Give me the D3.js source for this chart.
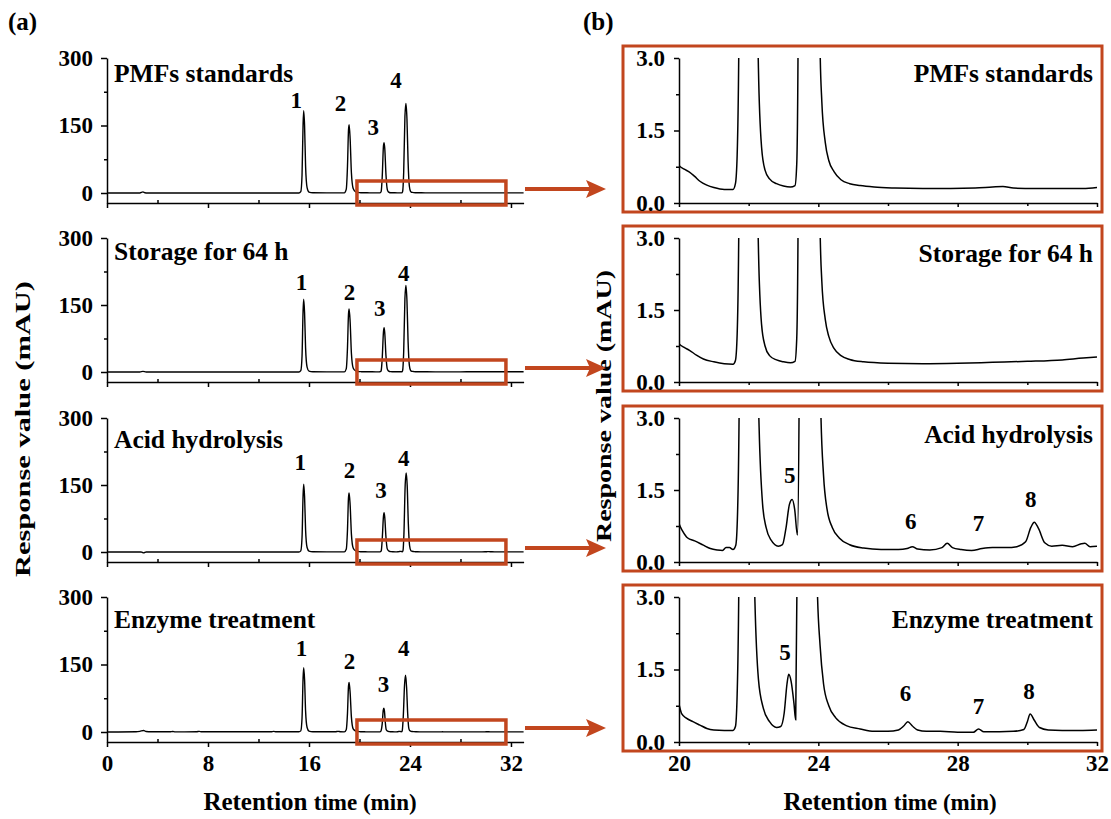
<!DOCTYPE html>
<html>
<head>
<meta charset="utf-8">
<script src="https://cdn.jsdelivr.net/npm/d3@7"></script>
<style>
  body { margin: 0; background: #fff; }
  svg text { font-family: "Liberation Serif", "Times New Roman", serif; font-weight: bold; fill: #000; }
  .tick text { font-size: 23px; }
  .domain, .tick line { stroke: #000; stroke-width: 1.5px; }
</style>
</head>
<body>
<div id="chart"></div>
<script>
const samples = ["PMFs standards", "Storage for 64 h", "Acid hydrolysis", "Enzyme treatment"];

const xTicksLeft = [0, 8, 16, 24, 32];
const xMinorLeft = [4, 12, 20, 28];
const yTicksLeft = [0, 150, 300];
const yMinorLeft = [75, 225];
const xTicksRight = [20, 24, 28, 32];
const xMinorRight = [22, 26, 30];
const yTicksRight = [0, 1.5, 3];
const yMinorRight = [0.75, 2.25];

// chromatograms: [retention time (min), response (mAU)]
const tracePMF = [[0,0],[2.6,0],[2.85,2.5],[3.0,0.5],[3.2,0],[15.2,0],[15.35,3],[15.45,40],[15.53,150],[15.58,183],[15.65,150],[15.73,60],[15.85,12],[16.0,2],[16.3,0.5],[18.8,0.3],[18.95,8],[19.05,60],[19.13,140],[19.18,152],[19.26,120],[19.36,45],[19.5,10],[19.7,2.5],[19.9,1.1],
  [20.0,0.78],[20.15,0.7],[20.3,0.64],[20.45,0.55],[20.6,0.45],[20.8,0.37],[21.0,0.32],[21.3,0.28],[21.55,0.28],[21.62,0.4],[21.67,1.0],[21.72,3.5],[21.8,35],[21.9,105],[21.95,112],[22.0,100],[22.1,40],[22.2,8],[22.28,2.8],[22.37,1.16],[22.47,0.68],[22.6,0.5],[22.8,0.4],[23.0,0.35],[23.2,0.33],[23.33,0.36],[23.38,0.8],[23.42,3.5],[23.5,45],[23.6,170],[23.68,199],[23.76,165],[23.85,70],[23.95,15],[24.05,3.2],[24.1,2.1],[24.2,1.25],[24.3,0.88],[24.45,0.65],[24.65,0.48],[24.9,0.4],[25.2,0.36],[25.6,0.33],[26.2,0.31],[27.0,0.3],[27.8,0.3],[28.5,0.31],[29.0,0.33],[29.3,0.34],[29.6,0.31],[30.2,0.3],[31.0,0.3],[31.6,0.3],[32.0,0.32],[33.0,0.32]];

const traceStorage = [[0,0],[2.6,0],[2.85,1.5],[3.1,0],[15.2,0],[15.35,3],[15.45,36],[15.53,135],[15.58,163],[15.65,133],[15.73,54],[15.85,11],[16.0,2],[16.3,0.5],[18.8,0.3],[18.95,7],[19.05,55],[19.13,130],[19.18,141],[19.26,112],[19.36,42],[19.5,9],[19.7,2.4],[19.9,1.1],
  [20.0,0.8],[20.15,0.72],[20.3,0.66],[20.5,0.56],[20.7,0.48],[21.0,0.42],[21.3,0.38],[21.55,0.37],[21.62,0.45],[21.67,1.0],[21.72,3.5],[21.8,30],[21.9,90],[21.95,99],[22.0,88],[22.1,35],[22.2,7],[22.28,2.8],[22.37,1.2],[22.47,0.75],[22.6,0.55],[22.8,0.46],[23.0,0.42],[23.2,0.4],[23.33,0.43],[23.38,0.9],[23.42,3.5],[23.5,44],[23.6,165],[23.68,194],[23.76,160],[23.85,68],[23.95,15],[24.05,3.2],[24.1,2.1],[24.2,1.3],[24.3,0.95],[24.45,0.7],[24.65,0.55],[24.9,0.47],[25.3,0.42],[26.0,0.39],[27.0,0.38],[28.0,0.39],[29.0,0.41],[30.0,0.43],[31.0,0.46],[31.6,0.5],[32.0,0.52],[33.0,0.53]];

const traceAcid = [[0,0],[2.7,0],[2.9,-2],[3.1,0],[15.2,0],[15.35,2.5],[15.45,33],[15.53,125],[15.58,152],[15.65,124],[15.73,50],[15.85,10],[16.0,2],[16.3,0.5],[18.8,0.3],[18.95,6],[19.05,50],[19.13,122],[19.18,132],[19.26,105],[19.36,40],[19.5,9],[19.7,2.4],[19.9,1.1],
  [20.0,0.8],[20.1,0.65],[20.25,0.5],[20.45,0.44],[20.7,0.35],[20.9,0.28],[21.1,0.25],[21.25,0.24],[21.35,0.3],[21.45,0.3],[21.55,0.26],[21.63,0.35],[21.68,1.0],[21.73,3.5],[21.8,28],[21.9,80],[21.95,88],[22.0,78],[22.1,32],[22.2,7],[22.3,2.8],[22.4,1.2],[22.5,0.72],[22.65,0.45],[22.85,0.33],[22.97,0.36],[23.07,0.7],[23.17,1.2],[23.25,1.3],[23.32,1.1],[23.4,0.56],[23.45,3.5],[23.52,40],[23.62,150],[23.7,177],[23.78,148],[23.87,63],[23.97,14],[24.07,3.2],[24.15,1.8],[24.25,1.1],[24.4,0.72],[24.6,0.5],[24.9,0.36],[25.3,0.29],[25.8,0.26],[26.3,0.26],[26.55,0.28],[26.7,0.32],[26.85,0.27],[27.2,0.25],[27.55,0.3],[27.7,0.39],[27.85,0.3],[28.1,0.26],[28.4,0.24],[28.7,0.28],[29.0,0.3],[29.4,0.3],[29.7,0.32],[29.95,0.42],[30.1,0.72],[30.2,0.83],[30.32,0.7],[30.5,0.4],[30.7,0.33],[31.0,0.35],[31.3,0.32],[31.55,0.38],[31.65,0.39],[31.8,0.32],[32.0,0.33],[33.0,0.33]];

const traceEnzyme = [[0,0],[2.3,0.5],[2.6,1.5],[2.9,3.5],[3.1,1],[3.5,0.5],[5.0,0.5],[5.2,1.2],[5.4,0.3],[7.1,0.5],[7.3,1.5],[7.5,0.4],[13.0,0.5],[13.2,1.3],[13.4,0.4],[15.2,0.4],[15.35,2.5],[15.45,31],[15.53,118],[15.58,143],[15.65,117],[15.73,47],[15.85,10],[16.0,2],[16.3,0.6],[18.1,0.5],[18.3,1.5],[18.5,0.5],[18.8,0.3],[18.95,5],[19.05,42],[19.13,102],[19.18,110],[19.26,87],[19.36,33],[19.5,7],[19.7,2.2],[19.9,1.1],
  [20.0,0.78],[20.08,0.58],[20.2,0.5],[20.4,0.42],[20.6,0.35],[20.8,0.28],[21.0,0.25],[21.3,0.24],[21.55,0.24],[21.62,0.32],[21.67,1.0],[21.72,3.5],[21.8,18],[21.88,48],[21.93,53],[21.98,46],[22.05,20],[22.12,5],[22.18,2.9],[22.28,1.3],[22.42,0.7],[22.6,0.42],[22.8,0.3],[22.92,0.32],[23.02,0.6],[23.1,1.2],[23.15,1.4],[23.22,1.25],[23.3,0.8],[23.35,0.46],[23.39,3.5],[23.47,35],[23.57,105],[23.65,126],[23.73,100],[23.82,40],[23.9,9],[23.97,3.2],[24.05,2.0],[24.15,1.2],[24.3,0.75],[24.5,0.5],[24.8,0.34],[25.2,0.27],[25.6,0.22],[26.0,0.22],[26.3,0.25],[26.45,0.33],[26.57,0.42],[26.7,0.33],[26.85,0.25],[27.1,0.22],[27.5,0.22],[28.0,0.2],[28.45,0.2],[28.6,0.27],[28.75,0.21],[29.2,0.21],[29.6,0.22],[29.9,0.26],[30.0,0.42],[30.08,0.58],[30.2,0.45],[30.35,0.3],[30.6,0.25],[31.0,0.24],[31.5,0.24],[32.0,0.25],[33.0,0.25]];

const traces = [tracePMF, traceStorage, traceAcid, traceEnzyme];

// peak numbers: [label, time, response]
const peakLabelsLeft = [
  [["1", 15.0, 190], ["2", 18.5, 183], ["3", 21.1, 130], ["4", 22.9, 234]],
  [["1", 15.4, 183], ["2", 19.2, 161], ["3", 21.6, 126], ["4", 23.5, 203]],
  [["1", 15.3, 183], ["2", 19.2, 166], ["3", 21.7, 121], ["4", 23.5, 192]],
  [["1", 15.4, 170], ["2", 19.2, 139], ["3", 21.9, 88], ["4", 23.5, 170]]
];
const peakLabelsRight = [
  [],
  [],
  [["5", 23.18, 1.65], ["6", 26.65, 0.68], ["7", 28.6, 0.64], ["8", 30.1, 1.14]],
  [["5", 23.04, 1.7], ["6", 26.5, 0.85], ["7", 28.6, 0.58], ["8", 30.05, 0.88]]
];
const zoomWindow = [19.8, 31.6];

const W = 1111, H = 819;
const red = "#c2461e";
const rowTop = [58, 238, 418, 597];
const rowAxis = [203, 382, 562, 742];
const titleLeftDy = [24, 22, 30, 31];
const titleRightDy = [24, 24, 25, 31];

const svg = d3.select("#chart").append("svg")
    .attr("width", W)
    .attr("height", H);

const xL = d3.scaleLinear().domain([0, 33]).range([107, 523.6]);
const xR = d3.scaleLinear().domain([20, 32]).range([679, 1097]);

function cleanAxis(g) {
    g.attr("font-family", null).attr("font-size", null);
}

// axis titles
function xTitle(cx) {
    const t = svg.append("text")
        .attr("x", cx)
        .attr("y", 810)
        .attr("text-anchor", "middle");
    t.append("tspan").attr("font-size", 25).text("Retention ");
    t.append("tspan").attr("font-size", 23).text("time (min)");
}
xTitle(310);
xTitle(890);

function yTitle(cx, cy, len) {
    svg.append("text")
        .attr("transform", `translate(${cx},${cy}) rotate(-90)`)
        .attr("text-anchor", "middle")
        .attr("font-size", 22)
        .attr("textLength", len)
        .attr("lengthAdjust", "spacingAndGlyphs")
        .text("Response value (mAU)");
}
yTitle(30, 429, 296);
yTitle(611, 406, 272);

svg.append("text").attr("x", 8).attr("y", 30).attr("font-size", 25).text("(a)");
svg.append("text").attr("x", 583).attr("y", 30).attr("font-size", 25).text("(b)");

samples.forEach((name, i) => {
    const top = rowTop[i], base = rowAxis[i], zero = base - 10;
    const last = i === samples.length - 1;
    const data = traces[i];

    // ---- left: full chromatogram ----
    const yL = d3.scaleLinear().domain([0, 300]).range([zero, top]);
    const yLAxis = yL.copy().domain([yL.invert(base), 300]).range([base, top]);

    const gl = svg.append("g");

    gl.append("g")
        .attr("transform", `translate(${xL(0)},0)`)
        .call(d3.axisLeft(yLAxis).tickValues(yTicksLeft).tickSize(6).tickPadding(8).tickSizeOuter(0))
        .call(cleanAxis);
    gl.append("g")
        .attr("transform", `translate(${xL(0)},0)`)
        .call(d3.axisLeft(yLAxis).tickValues(yMinorLeft).tickSize(3).tickFormat("").tickSizeOuter(0))
        .call(g => g.select(".domain").remove());

    gl.append("g")
        .attr("transform", `translate(0,${base})`)
        .call(d3.axisBottom(xL).tickValues(xTicksLeft).tickSize(5).tickPadding(8)
            .tickFormat(last ? d3.format("d") : "").tickSizeOuter(0))
        .call(cleanAxis);
    gl.append("g")
        .attr("transform", `translate(0,${base})`)
        .call(d3.axisTop(xL).tickValues(xMinorLeft).tickSize(3).tickFormat("").tickSizeOuter(0))
        .call(g => g.select(".domain").remove());

    gl.append("path")
        .datum(data)
        .attr("fill", "none")
        .attr("stroke", "#000")
        .attr("stroke-width", 1.4)
        .attr("d", d3.line().x(d => xL(d[0])).y(d => yL(d[1])).curve(d3.curveMonotoneX));

    gl.append("text")
        .attr("x", 114)
        .attr("y", top + titleLeftDy[i])
        .attr("font-size", 25.5)
        .text(name);

    gl.selectAll(".peak")
        .data(peakLabelsLeft[i])
        .enter().append("text")
        .attr("x", d => xL(d[1]))
        .attr("y", d => yL(d[2]))
        .attr("text-anchor", "middle")
        .attr("font-size", 23)
        .text(d => d[0]);

    // zoom window and arrow
    gl.append("rect")
        .attr("x", xL(zoomWindow[0]))
        .attr("y", zero - 12)
        .attr("width", xL(zoomWindow[1]) - xL(zoomWindow[0]))
        .attr("height", base + 2 - (zero - 12))
        .attr("fill", "none")
        .attr("stroke", red)
        .attr("stroke-width", 3.5);

    const ay = zero - 4;
    gl.append("line")
        .attr("x1", 525).attr("x2", 592)
        .attr("y1", ay).attr("y2", ay)
        .attr("stroke", red)
        .attr("stroke-width", 4);
    gl.append("path")
        .attr("d", `M586,${ay - 9} L606,${ay} L586,${ay + 9} L590,${ay} Z`)
        .attr("fill", red);

    // ---- right: enlarged 20-32 min ----
    const yR = d3.scaleLinear().domain([0, 3]).range([base, top]);
    const gr = svg.append("g");

    gr.append("rect")
        .attr("x", 623)
        .attr("y", top - 12)
        .attr("width", 1102 - 623)
        .attr("height", base + 9 - (top - 12))
        .attr("fill", "none")
        .attr("stroke", red)
        .attr("stroke-width", 3);

    gr.append("clipPath")
        .attr("id", "clip" + i)
        .append("rect")
        .attr("x", xR(20))
        .attr("y", top)
        .attr("width", xR(32) - xR(20))
        .attr("height", base - top);

    gr.append("g")
        .attr("transform", `translate(${xR(20)},0)`)
        .call(d3.axisLeft(yR).tickValues(yTicksRight).tickSize(5).tickPadding(9)
            .tickFormat(d3.format(".1f")).tickSizeOuter(0))
        .call(cleanAxis);
    gr.append("g")
        .attr("transform", `translate(${xR(20)},0)`)
        .call(d3.axisLeft(yR).tickValues(yMinorRight).tickSize(3).tickFormat("").tickSizeOuter(0))
        .call(g => g.select(".domain").remove());

    gr.append("g")
        .attr("transform", `translate(0,${base})`)
        .call(d3.axisBottom(xR).tickValues(xTicksRight).tickSize(4).tickPadding(9)
            .tickFormat(last ? d3.format("d") : "").tickSizeOuter(0))
        .call(cleanAxis);
    gr.append("g")
        .attr("transform", `translate(0,${base})`)
        .call(d3.axisBottom(xR).tickValues(xMinorRight).tickSize(3).tickFormat("").tickSizeOuter(0))
        .call(g => g.select(".domain").remove());

    gr.append("path")
        .datum(data.filter(d => d[0] >= 19.9 && d[0] <= 32.1))
        .attr("clip-path", `url(#clip${i})`)
        .attr("fill", "none")
        .attr("stroke", "#000")
        .attr("stroke-width", 1.5)
        .attr("d", d3.line().x(d => xR(d[0])).y(d => yR(d[1])).curve(d3.curveMonotoneX));

    gr.append("text")
        .attr("x", 1093)
        .attr("y", top + titleRightDy[i])
        .attr("text-anchor", "end")
        .attr("font-size", 25.5)
        .text(name);

    gr.selectAll(".peak")
        .data(peakLabelsRight[i])
        .enter().append("text")
        .attr("x", d => xR(d[1]))
        .attr("y", d => yR(d[2]))
        .attr("text-anchor", "middle")
        .attr("font-size", 23)
        .text(d => d[0]);
});
</script>
</body>
</html>
